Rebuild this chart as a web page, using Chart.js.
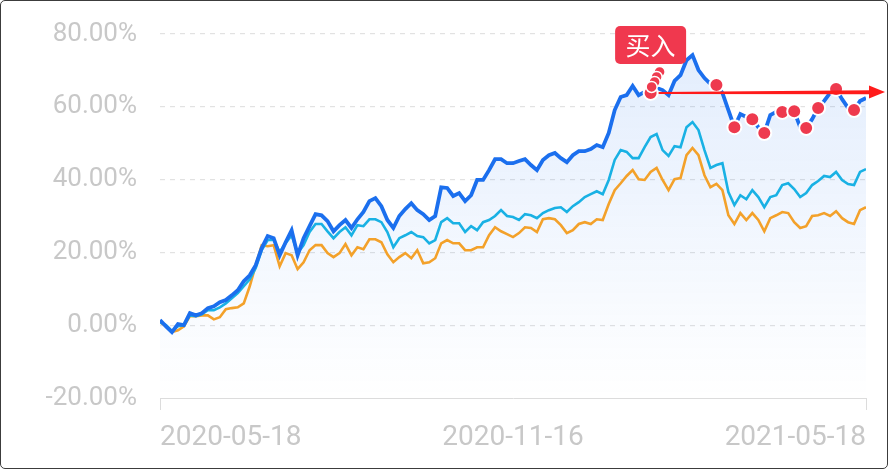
<!DOCTYPE html>
<html>
<head>
<meta charset="utf-8">
<script src="https://cdn.jsdelivr.net/npm/chart.js@4.4.1/dist/chart.umd.min.js"></script>
<style>
  html, body { margin: 0; padding: 0; background: #fff; }
  #wrap { position: relative; width: 888px; height: 469px; }
  #frame { position: absolute; left: 0; top: 0; right: 0; bottom: 0; border: 1px solid #3c3c3c; border-radius: 5px; pointer-events: none; }
  canvas { position: absolute; left: 0; top: 0; }
</style>
</head>
<body>
<div id="wrap">
  <canvas id="chart" width="888" height="469"></canvas>
  <div id="frame"></div>
</div>
<script>
// date ticks shown on the x axis (first, middle, last point)
const tickLabels = ["2020-05-18", "2020-11-16", "2021-05-18"];

// cumulative return, %
const fundReturn = [
  1.4, -0.3, -1.9, 0.3, 0.0, 3.3, 2.7, 3.3, 4.7, 5.2, 6.3, 6.9, 8.2, 9.6, 12.1, 13.7, 16.5, 21.2, 24.5, 23.9,
  19.2, 22.8, 26.1, 19.2, 23.9, 27.2, 30.5, 30.2, 28.6, 25.8, 27.5, 28.9, 26.7, 29.1, 31.1, 34.1, 34.9, 32.7, 28.9, 26.7,
  30.0, 31.9, 33.5, 31.6, 30.5, 28.9, 30.0, 37.9, 37.7, 35.5, 36.3, 34.1, 35.7, 39.9, 39.9, 42.6, 45.6, 45.6, 44.5, 44.5,
  45.1, 45.6, 44.0, 42.6, 45.4, 46.7, 47.3, 45.9, 44.8, 46.7, 47.8, 47.8, 48.4, 49.5, 48.9, 52.8, 59.1, 62.7, 63.2, 65.7,
  63.2, 64.1, 63.8, 65.2, 64.6, 63.2, 67.1, 68.7, 72.8, 74.2, 70.1, 67.9, 66.3, 66.0, 63.8, 59.1, 54.4, 58.0, 57.2, 56.6,
  54.4, 52.8, 57.7, 58.6, 58.6, 58.0, 58.8, 54.4, 54.2, 56.6, 59.7, 61.6, 63.8, 64.9, 62.1, 59.7, 59.1, 61.6, 62.4
];
const benchA = [
  0.8, 0.0, -1.6, -0.3, 0.0, 2.7, 2.5, 3.0, 4.1, 4.1, 4.9, 6.0, 7.4, 8.8, 10.7, 12.6, 15.7, 20.6, 23.4, 23.4,
  20.1, 22.5, 24.7, 19.8, 22.0, 25.6, 27.8, 27.8, 25.8, 23.9, 25.6, 26.9, 24.7, 27.5, 27.2, 29.1, 29.1, 28.3, 25.6, 21.4,
  23.9, 24.7, 25.6, 24.5, 24.2, 22.5, 23.4, 28.3, 29.4, 28.0, 28.0, 25.6, 27.2, 26.1, 28.3, 28.9, 30.0, 31.6, 30.0, 29.7,
  28.9, 30.5, 30.2, 29.4, 30.8, 31.6, 32.2, 32.4, 31.1, 32.7, 33.8, 35.2, 36.0, 36.8, 36.0, 39.9, 45.4, 48.1, 47.6, 45.9,
  45.9, 48.9, 51.7, 52.5, 48.1, 46.5, 49.2, 48.9, 54.4, 55.8, 53.6, 48.1, 43.2, 44.0, 44.5, 36.6, 33.0, 35.7, 34.6, 37.1,
  35.2, 32.4, 35.2, 35.7, 38.5, 39.0, 37.4, 35.2, 36.3, 38.5, 39.6, 41.0, 40.7, 42.1, 39.9, 38.8, 38.5, 42.1, 42.9
];
const benchB = [
  0.8, -0.3, -1.9, -1.4, -0.3, 2.5, 2.5, 2.7, 2.7, 1.6, 2.2, 4.4, 4.7, 4.9, 6.0, 10.7, 16.5, 22.0, 21.7, 22.0,
  16.2, 19.8, 19.2, 15.4, 17.3, 20.6, 22.0, 22.0, 19.8, 18.7, 19.8, 22.3, 19.2, 21.4, 20.9, 23.6, 23.6, 22.8, 19.5, 17.3,
  18.7, 19.8, 18.4, 20.6, 17.0, 17.3, 18.4, 22.5, 23.4, 22.5, 22.5, 20.6, 20.6, 21.4, 21.4, 24.7, 26.9, 25.8, 25.0, 24.2,
  25.3, 26.9, 26.7, 25.6, 29.1, 29.4, 29.1, 27.5, 25.3, 26.1, 27.8, 28.3, 27.8, 29.1, 28.9, 33.3, 37.1, 39.0, 41.0, 42.6,
  40.1, 39.9, 42.1, 43.2, 39.9, 37.1, 40.1, 40.4, 46.7, 48.7, 46.7, 41.2, 37.9, 38.8, 37.1, 30.2, 27.8, 30.8, 28.9, 30.8,
  28.9, 25.8, 29.4, 30.2, 31.1, 30.8, 28.3, 26.7, 27.2, 30.0, 30.2, 30.8, 30.0, 31.3, 29.4, 28.3, 27.8, 31.6, 32.4
];

// points where a trade happened (index into the series)
const tradeIdx = [82, 93, 96, 99, 101, 104, 106, 108, 110, 113, 116];
const buyIdx = 82;
const buyText = "买入";

const lastIdx = fundReturn.length - 1;
const toXY = arr => arr.map((v, i) => ({ x: i, y: v }));

const buyMarker = {
  id: "buyMarker",
  afterDatasetsDraw(chart) {
    const ctx = chart.ctx;
    const x = chart.scales.x.getPixelForValue(buyIdx);
    const y = chart.scales.y.getPixelForValue(fundReturn[buyIdx]);
    ctx.save();

    // arrow to the right edge, a bit heavier toward the tip
    const tipX = chart.width - 3;
    ctx.fillStyle = "#ff1b1b";
    ctx.beginPath();
    ctx.moveTo(x + 8, y - 1);
    ctx.lineTo(tipX - 14, y - 2.8);
    ctx.lineTo(tipX - 14, y + 1.2);
    ctx.lineTo(x + 8, y + 1);
    ctx.closePath();
    ctx.fill();
    ctx.beginPath();
    ctx.moveTo(tipX, y - 1);
    ctx.lineTo(tipX - 16, y - 7.5);
    ctx.lineTo(tipX - 16, y + 5.5);
    ctx.closePath();
    ctx.fill();

    // little stacked pointer under the label
    const steps = [[9, -21], [6, -16], [4, -11], [1, -6]];
    steps.forEach(s => {
      ctx.beginPath();
      ctx.arc(x + s[0], y + s[1], 5.5, 0, Math.PI * 2);
      ctx.fillStyle = "#ef3b4f";
      ctx.fill();
      ctx.lineWidth = 1.5;
      ctx.strokeStyle = "#fff";
      ctx.stroke();
    });

    // label box
    const w = 71, h = 38, r = 5;
    const bx = x - w / 2, by = y - 29 - h;
    ctx.beginPath();
    ctx.roundRect(bx, by, w, h, r);
    ctx.fillStyle = "#f0384e";
    ctx.fill();
    ctx.fillStyle = "#fff";
    ctx.font = "25px 'Noto Sans CJK SC'";
    ctx.textAlign = "center";
    ctx.textBaseline = "middle";
    ctx.fillText(buyText, x, by + h / 2 + 1);
    ctx.restore();
  }
};

new Chart(document.getElementById("chart"), {
  type: "line",
  data: {
    datasets: [
      {
        label: "trades",
        data: tradeIdx.map(i => ({ x: i, y: fundReturn[i] })),
        showLine: false,
        pointRadius: 7,
        pointBackgroundColor: "#ee3a4e",
        pointBorderColor: "#fff",
        pointBorderWidth: 2,
        order: 0
      },
      {
        label: "fund",
        data: toXY(fundReturn),
        borderColor: "#1b6fee",
        borderWidth: 3.8,
        pointRadius: 0,
        tension: 0,
        fill: "start",
        backgroundColor: (c) => {
          const ca = c.chart.chartArea;
          if (!ca) return "rgba(0,0,0,0)";
          const g = c.chart.ctx.createLinearGradient(0, ca.top, 0, ca.bottom);
          g.addColorStop(0, "rgba(27,111,238,0.13)");
          g.addColorStop(1, "rgba(27,111,238,0.0)");
          return g;
        },
        order: 1
      },
      {
        label: "benchA",
        data: toXY(benchA),
        borderColor: "#19b1e4",
        borderWidth: 2.6,
        pointRadius: 0,
        tension: 0,
        fill: false,
        order: 2
      },
      {
        label: "benchB",
        data: toXY(benchB),
        borderColor: "#f3a12a",
        borderWidth: 2.6,
        pointRadius: 0,
        tension: 0,
        fill: false,
        order: 3
      }
    ]
  },
  options: {
    responsive: false,
    animation: false,
    layout: { padding: { top: 34, right: 22, left: 0, bottom: 0 } },
    plugins: {
      legend: { display: false },
      tooltip: { enabled: false },
      filler: { drawTime: "beforeDatasetsDraw" }
    },
    scales: {
      x: {
        type: "linear",
        min: 0,
        max: lastIdx,
        afterBuildTicks: (s) => { s.ticks = [{ value: 0 }, { value: lastIdx / 2 }, { value: lastIdx }]; },
        afterFit: (s) => { s.height = 71; },
        ticks: {
          autoSkip: false,
          maxRotation: 0,
          align: "inner",
          padding: 11,
          color: "#c8c8c8",
          font: { family: "Roboto", size: 28 },
          callback: (v, i) => tickLabels[i]
        },
        grid: {
          drawOnChartArea: false,
          tickLength: 12,
          color: (c) => c.index === 1 ? "rgba(0,0,0,0)" : "#dcdcdc"
        },
        border: { display: true, color: "#dcdcdc" }
      },
      y: {
        min: -20,
        max: 80,
        // fixed gutter; tick padding should not push the plot down
        afterFit: (s) => { s.width = 160; s.paddingTop = 16; s.paddingBottom = 0; },
        ticks: {
          stepSize: 20,
          padding: 23,
          color: "#c8c8c8",
          font: { family: "Roboto", size: 26 },
          callback: (v) => v.toFixed(2) + "%"
        },
        grid: {
          drawTicks: false,
          color: (c) => c.tick.value === -20 ? "rgba(0,0,0,0)" : "#e2e2e2",
          lineWidth: 1.2
        },
        border: { display: false, dash: [5, 5] }
      }
    }
  },
  plugins: [buyMarker]
});
</script>
</body>
</html>
